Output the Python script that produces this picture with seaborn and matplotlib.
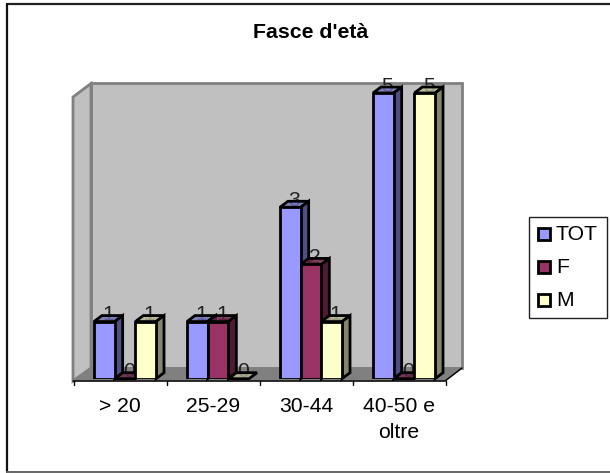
"""Fasce d'eta - 3D-look clustered bars, seaborn for the fronts, faces added on top"""
import matplotlib
matplotlib.use("Agg")
import matplotlib.pyplot as plt
from matplotlib.colors import to_rgba
from matplotlib.patches import Polygon, Rectangle
from matplotlib.transforms import ScaledTranslation
import pandas as pd
import seaborn as sns

categories = ["> 20", "25-29", "30-44", "40-50 e\noltre"]
tot_values = [1, 1, 3, 5]
f_values = [0, 1, 2, 0]
m_values = [1, 0, 1, 5]
series_names = ["TOT", "F", "M"]
series_colors = ["#9999FF", "#993366", "#FFFFCC"]
side_colors = ["#4F4F85", "#4F1A35", "#85856A"]
top_colors = ["#6F6FB9", "#6F254A", "#B9B994"]

W, H = 610, 473
DX, DY = 8, 6  # bar depth in px
FS = 15.2

sns.set_style("white")
plt.rcParams["font.family"] = ["Liberation Sans", "DejaVu Sans"]
plt.rcParams["text.color"] = "black"
plt.rcParams["xtick.labelcolor"] = "black"

df = pd.DataFrame({
    "fascia": categories * 3,
    "serie": [s for s in series_names for _ in categories],
    "valore": tot_values + f_values + m_values,
})

fig = plt.figure(figsize=(W / 100, H / 100), dpi=100, facecolor="white")

# background layer in pixel coords: frame, walls, floor
bg = fig.add_axes([0, 0, 1, 1], zorder=0)
bg.set_xlim(0, W)
bg.set_ylim(H, 0)
bg.axis("off")
bg.plot([6.5, W], [4, 4], color="#222222", lw=1.6)
bg.plot([6.5, 6.5], [4, 472], color="#111111", lw=1.6)
bg.plot([6.5, W], [472, 472], color="#666666", lw=1.4)
bg.add_patch(Polygon([(91, 83.5), (462, 83.5), (462, 368), (91, 368)], fc="#C0C0C0", ec="#808080", lw=2))
bg.add_patch(Polygon([(73, 97), (91, 83.5), (91, 368), (73, 381)], fc="#C0C0C0", ec="#808080", lw=2))
bg.add_patch(Polygon([(73, 381), (91, 368), (462, 368), (445, 381)], fc="#808080", ec="#808080", lw=1))
bg.plot([73, 445, 462], [381, 381, 368], color="black", lw=1)
for px in [73.5, 166.5, 259.5, 352.5, 445.5]:
    bg.plot([px, px], [381, 385], color="black", lw=1)

# bars
ax = fig.add_axes([78.5 / W, 1 - 378.7 / H, 372 / W, 285.7 / H], zorder=1)
ax.patch.set_alpha(0)
sns.barplot(
    data=df, x="fascia", y="valore", hue="serie", hue_order=series_names,
    palette=series_colors, width=0.667, gap=0, saturation=1,
    edgecolor="black", linewidth=2, legend=False, ax=ax, zorder=3,
)
ax.set_xlim(-0.5, 3.5)
ax.set_ylim(0, 5)
ax.set_xlabel("")
ax.set_ylabel("")
ax.set_yticks([])
for sp in ax.spines.values():
    sp.set_visible(False)
ax.tick_params(axis="x", length=0, pad=13, labelsize=FS)
shift = ScaledTranslation(-5 / 100, 0, fig.dpi_scale_trans)
for lab in ax.get_xticklabels():
    lab.set_transform(lab.get_transform() + shift)
    lab.set_linespacing(1.45)

# depth faces + value labels, from the bars seaborn drew
px_per_x = 372 / 4
px_per_y = 285.7 / 5
dx, dy = DX / px_per_x, DY / px_per_y
bars = [b for b in ax.patches if isinstance(b, Rectangle)]
for i, b in enumerate(bars):
    s = i // len(categories)
    x0, x1, h = b.get_x(), b.get_x() + b.get_width(), b.get_height()
    ax.add_patch(Polygon([(x0, h), (x1, h), (x1 + dx, h + dy), (x0 + dx, h + dy)],
                         fc=to_rgba(top_colors[s], 0.8), ec="black", lw=2, zorder=2, clip_on=False))
    if h > 0:
        ax.add_patch(Polygon([(x1, 0), (x1 + dx, dy), (x1 + dx, h + dy), (x1, h)],
                             fc=side_colors[s], ec="black", lw=2, zorder=2, clip_on=False))
    ax.annotate(f"{h:.0f}", ((x0 + x1) / 2 + dx / 2, h), xytext=(0, 1), textcoords="offset points",
                ha="center", va="baseline", fontsize=FS, color="#222222", zorder=1, annotation_clip=False)

# title and legend
bg.text(311, 32, "Fasce d'età", ha="center", va="center", fontsize=15.3, fontweight="bold", color="black")
bg.add_patch(Rectangle((529, 217), 78, 101, fc="white", ec="#222222", lw=1))
for y, name, col in zip([234, 267, 300], series_names, series_colors):
    bg.add_patch(Rectangle((538, y - 6), 12, 12, fc=col, ec="black", lw=2))
    bg.text(556, y, name, va="center", fontsize=FS, color="black")

fig.savefig("out.png", dpi=100)
plt.close(fig)
